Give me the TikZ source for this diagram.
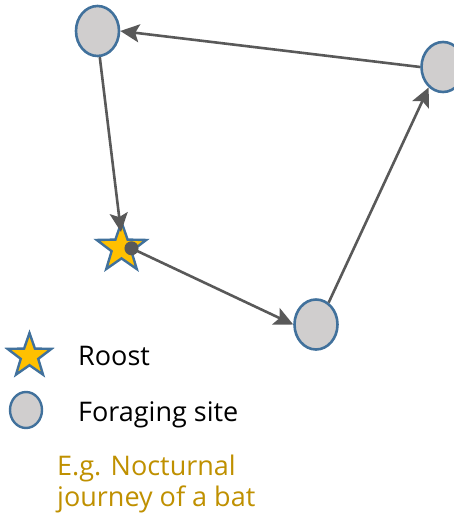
\documentclass[tikz,border=0pt]{standalone}
\usepackage{fontspec}
\setmainfont{Open Sans}
\usetikzlibrary{shapes.geometric,arrows.meta,calc}
\definecolor{sitefill}{HTML}{D0CECE}
\definecolor{siteedge}{HTML}{41719C}
\definecolor{roostfill}{HTML}{FFC000}
\definecolor{arrowgray}{HTML}{595959}
\definecolor{goldtext}{HTML}{BF9000}
\tikzset{
  site/.style={ellipse, draw=siteedge, fill=sitefill, line width=2.6pt, minimum width=43pt, minimum height=50pt, inner sep=0pt},
  roost/.style={star, star points=5, star point ratio=2.5, draw=siteedge, fill=roostfill, line width=2.4pt, minimum size=#1, inner sep=0pt},
  leg/.style={ellipse, draw=siteedge, fill=sitefill, line width=2.4pt, minimum width=32pt, minimum height=36pt, inner sep=0pt},
  conn/.style={draw=arrowgray, line width=2.6pt, -{Stealth[length=19pt,width=18pt,inset=4pt]}},
  lbl/.style={anchor=base west, inner sep=0pt, font=\fontsize{27}{30}\selectfont},
  gold/.style={anchor=base west, inner sep=0pt, text=goldtext, font=\fontsize{27}{30}\selectfont}
}
\begin{document}
\begin{tikzpicture}[x=1pt,y=-1pt]
\useasboundingbox (0,0) rectangle (454,519);
\begin{scope}
\clip (0,0) rectangle (454,519);
\node[site] (tl) at (97.5,31) {};
\node[site] (rt) at (443,67) {};
\node[site] (bt) at (316,324.5) {};
\node[roost=52pt] (rs) at (121.5,248) {};
\coordinate (rin) at (121,232);
\coordinate (rdot) at (131.5,248.3);
\draw[conn] (tl.-85) -- (rin);
\draw[conn, {Circle[length=14pt]}-{Stealth[length=19pt,width=18pt,inset=4pt]}] ($(rdot)!-7pt!(bt.west)$) -- (bt.west);
\draw[conn] (bt.60) -- (rt.-125);
\draw[conn] (rt.west) -- (tl.east);
\end{scope}
\node[roost=46pt] (lr) at (29.5,356) {};
\node[leg] (ls) at (26,410) {};
\node[lbl] (t1) at (78,365) {Roost};
\node[lbl] (t2) at (78,421) {Foraging site};
\node[gold] (g1) at (57,475) {E.g. Nocturnal};
\node[gold] (g2) at (57,506) {journey of a bat};
\end{tikzpicture}
\end{document}
